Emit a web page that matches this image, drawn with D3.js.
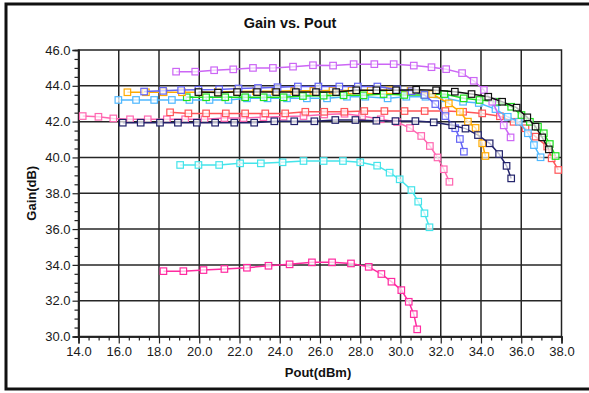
<!DOCTYPE html>
<html>
<head>
<meta charset="utf-8">
<script src="https://cdn.jsdelivr.net/npm/d3@7"></script>
<style>
  html, body { margin: 0; padding: 0; background: #fff; }
  svg { display: block; }
  text { font-family: "Liberation Sans", Arial, sans-serif; }
</style>
</head>
<body>
<svg id="chart" width="589" height="393"></svg>
<script>
// Gain vs. output power sweeps (Pout in dBm, gain in dB)
const xTicks = [14, 16, 18, 20, 22, 24, 26, 28, 30, 32, 34, 36, 38];
const yTicks = [30, 32, 34, 36, 38, 40, 42, 44, 46];

const magentaPout = [18.22,19.21,20.21,21.25,22.37,23.44,24.49,25.6,26.6,27.54,28.42,29.05,29.55,30.04,30.41,30.66,30.83];
const magentaGain = [33.65,33.65,33.71,33.77,33.84,33.95,34.03,34.14,34.14,34.08,33.89,33.49,33.06,32.59,31.94,31.25,30.4];

const cyanPout = [19.05,19.96,20.99,22.03,23.06,24.14,25.18,26.18,27.14,28.0,28.84,29.46,29.96,30.54,30.88,31.19,31.44];
const cyanGain = [39.58,39.58,39.58,39.67,39.67,39.73,39.8,39.8,39.8,39.73,39.54,39.15,38.78,38.18,37.53,36.88,36.1];

const pinkPout = [14.21,14.99,15.73,16.56,17.44,18.39,19.3,20.26,21.25,22.2,23.19,24.19,25.18,26.21,27.22,28.09,29.02,29.83,30.47,31.03,31.46,31.84,32.15,32.43];
const pinkGain = [42.31,42.27,42.18,42.13,42.13,42.13,42.13,42.13,42.2,42.2,42.25,42.28,42.31,42.4,42.44,42.31,42.13,41.98,41.64,41.2,40.64,40.0,39.34,38.64];

const redPout = [18.55,19.46,20.34,21.32,22.28,23.28,24.27,25.27,26.21,27.21,28.2,29.2,30.2,31.2,32.23,33.11,34.06,34.94,35.62,36.21,36.71,37.29,37.51,37.84];
const redGain = [42.52,42.46,42.46,42.46,42.46,42.46,42.46,42.55,42.55,42.55,42.59,42.59,42.59,42.59,42.59,42.55,42.46,42.3,41.99,41.63,41.16,40.61,39.95,39.3];

const skyPout = [15.98,16.86,17.76,18.64,19.51,20.51,21.45,22.37,23.39,24.36,25.35,26.35,27.34,28.25,29.36,30.29,31.24,32.23,33.11,33.89,34.72,35.33,35.88,36.33,36.63,36.96];
const skyGain = [43.21,43.21,43.21,43.21,43.21,43.21,43.21,43.3,43.3,43.3,43.3,43.3,43.39,43.39,43.3,43.39,43.39,43.3,43.11,43.04,42.7,42.27,41.99,41.35,40.69,40.01];

const greenPout = [19.38,20.34,21.29,22.28,23.2,24.19,25.15,26.18,27.17,28.17,29.16,30.19,31.19,32.18,33.14,33.93,34.8,35.5,36.01,36.43,36.83,37.12,37.42,37.71];
const greenGain = [43.36,43.36,43.36,43.36,43.36,43.36,43.43,43.45,43.47,43.47,43.54,43.49,43.49,43.54,43.3,43.21,43.11,42.83,42.37,41.99,41.72,41.35,40.75,40.08];

const orangePout = [16.43,17.35,18.23,19.14,19.97,20.92,21.87,22.82,23.77,24.72,25.67,26.62,27.57,28.52,29.47,30.5,31.57,32.4,32.95,33.35,33.73,34.06,34.22];
const orangeGain = [43.64,43.64,43.64,43.64,43.64,43.66,43.68,43.7,43.7,43.72,43.72,43.74,43.74,43.75,43.75,43.72,43.54,43.02,42.55,42.0,41.65,40.79,40.08];

const bluePout = [17.26,18.2,19.1,19.96,20.99,21.95,22.92,23.89,24.9,25.92,26.96,27.88,28.85,29.83,30.55,31.19,31.73,32.23,32.72,32.95,33.15];
const blueGain = [43.68,43.72,43.76,43.78,43.8,43.85,43.88,43.92,43.96,43.96,43.96,43.96,43.96,43.8,43.7,43.49,42.98,42.31,41.63,41.03,40.32];

const violetPout = [18.85,19.8,20.74,21.69,22.67,23.66,24.66,25.65,26.65,27.67,28.7,29.66,30.66,31.54,32.27,33.06,33.64,34.14,34.56,35.13,35.47];
const violetGain = [44.79,44.79,44.87,44.92,45.0,45.0,45.07,45.15,45.13,45.21,45.21,45.21,45.13,45.04,44.93,44.71,44.28,43.77,43.11,41.79,41.12];

const navyPout = [16.2,17.09,18.05,18.94,19.88,20.79,21.74,22.73,23.73,24.72,25.72,26.76,27.76,28.8,29.75,30.74,31.65,32.57,33.23,33.85,34.43,34.9,35.27,35.5];
const navyGain = [41.94,41.94,41.94,41.94,41.94,41.94,41.94,41.94,42.02,42.02,42.02,42.09,42.09,42.05,42.03,42.03,41.96,41.8,41.61,41.25,40.79,40.19,39.53,38.83];

const blackPout = [19.96,20.93,21.88,22.87,23.82,24.8,25.8,26.8,27.8,28.8,29.78,30.78,31.77,32.7,33.53,34.36,35.05,35.77,36.3,36.71,37.04,37.37];
const blackGain = [43.65,43.62,43.65,43.65,43.65,43.65,43.65,43.65,43.75,43.75,43.75,43.78,43.75,43.67,43.54,43.39,43.11,42.78,42.24,41.72,41.12,40.45];

// Series in drawing order
const series = [
  { pout: magentaPout, gain: magentaGain, color: "#ff2aa0" },
  { pout: cyanPout,    gain: cyanGain,    color: "#44e4ea" },
  { pout: pinkPout,    gain: pinkGain,    color: "#ff66b0" },
  { pout: redPout,     gain: redGain,     color: "#ff5558" },
  { pout: skyPout,     gain: skyGain,     color: "#4fb8ff" },
  { pout: greenPout,   gain: greenGain,   color: "#1ee01e" },
  { pout: orangePout,  gain: orangeGain,  color: "#ffaa00" },
  { pout: bluePout,    gain: blueGain,    color: "#6464f5" },
  { pout: violetPout,  gain: violetGain,  color: "#cc66f5" },
  { pout: navyPout,    gain: navyGain,    color: "#22226a" },
  { pout: blackPout,   gain: blackGain,   color: "#111111" }
];

const svg = d3.select("#chart");
const plotLeft = 78.5, plotRight = 561.5, plotTop = 50, plotBottom = 336.5;

const x = d3.scaleLinear().domain([14, 38]).range([plotLeft, plotRight]);
const y = d3.scaleLinear().domain([30, 46]).range([plotBottom, plotTop]);

// outer window frame
svg.append("rect")
  .attr("x", 6).attr("y", 4).attr("width", 600).attr("height", 385)
  .attr("fill", "#fff").attr("stroke", "#111").attr("stroke-width", 3);

// plot background
svg.append("rect")
  .attr("x", plotLeft).attr("y", plotTop).attr("width", plotRight - plotLeft).attr("height", plotBottom - plotTop)
  .attr("fill", "#fff");

// grid
const grid = svg.append("g").attr("stroke", "#262626").attr("stroke-width", 1.5);
grid.selectAll("line.v").data(xTicks.slice(1, -1)).join("line").attr("class", "v")
  .attr("x1", d => x(d)).attr("x2", d => x(d)).attr("y1", plotTop).attr("y2", plotBottom);
grid.selectAll("line.h").data(yTicks.slice(1, -1)).join("line").attr("class", "h")
  .attr("y1", d => y(d)).attr("y2", d => y(d)).attr("x1", plotLeft).attr("x2", plotRight);

svg.append("rect")
  .attr("x", plotLeft).attr("y", plotTop).attr("width", plotRight - plotLeft).attr("height", plotBottom - plotTop)
  .attr("fill", "none").attr("stroke", "#222").attr("stroke-width", 1.5);

// axes
const minorX = d3.range(14, 38.01, 0.5).filter(v => !xTicks.includes(v));
const minorY = d3.range(30, 46.01, 0.5).filter(v => !yTicks.includes(v));

svg.append("g").attr("transform", `translate(0,${plotBottom})`)
  .call(d3.axisBottom(x).tickValues(xTicks).tickFormat(d3.format(".1f")).tickSize(7).tickPadding(3));
svg.append("g").attr("transform", `translate(0,${plotBottom})`)
  .call(d3.axisBottom(x).tickValues(minorX).tickFormat("").tickSize(4));
svg.append("g").attr("transform", `translate(${plotLeft},0)`)
  .call(d3.axisLeft(y).tickValues(yTicks).tickFormat(d3.format(".1f")).tickSize(6).tickPadding(2));
svg.append("g").attr("transform", `translate(${plotLeft},0)`)
  .call(d3.axisLeft(y).tickValues(minorY).tickFormat("").tickSize(4));

svg.selectAll(".domain").attr("stroke", "#222").attr("stroke-width", 1.5);
svg.selectAll(".tick line").attr("stroke", "#222").attr("stroke-width", 1.2);
svg.selectAll(".tick text").attr("font-size", "13px").attr("fill", "#1a1a1a")
  .attr("font-family", "'Liberation Sans', Arial, sans-serif");

// series lines and square markers
const line = d3.line().x(d => x(d[0])).y(d => y(d[1]));
const plot = svg.append("g");
series.forEach(s => {
  const pts = s.pout.map((p, i) => [p, s.gain[i]]);
  plot.append("path").datum(pts)
    .attr("d", line).attr("fill", "none").attr("stroke", s.color).attr("stroke-width", 1.5);
  plot.append("g").selectAll("rect").data(pts).join("rect")
    .attr("x", d => x(d[0]) - 3.25).attr("y", d => y(d[1]) - 3.25)
    .attr("width", 6.5).attr("height", 6.5)
    .attr("fill", "#fff").attr("fill-opacity", 0.7)
    .attr("stroke", s.color).attr("stroke-width", 1.2);
});

// titles
svg.append("text").attr("x", 290).attr("y", 28).attr("text-anchor", "middle")
  .attr("font-size", "14.5px").attr("font-weight", "bold").attr("fill", "#111")
  .text("Gain vs. Pout");
svg.append("text").attr("x", 318).attr("y", 377).attr("text-anchor", "middle")
  .attr("font-size", "13px").attr("font-weight", "bold").attr("fill", "#111")
  .text("Pout(dBm)");
svg.append("text").attr("transform", `translate(36,${(plotTop + plotBottom) / 2}) rotate(-90)`)
  .attr("text-anchor", "middle")
  .attr("font-size", "13px").attr("font-weight", "bold").attr("fill", "#111")
  .text("Gain(dB)");
</script>
</body>
</html>
